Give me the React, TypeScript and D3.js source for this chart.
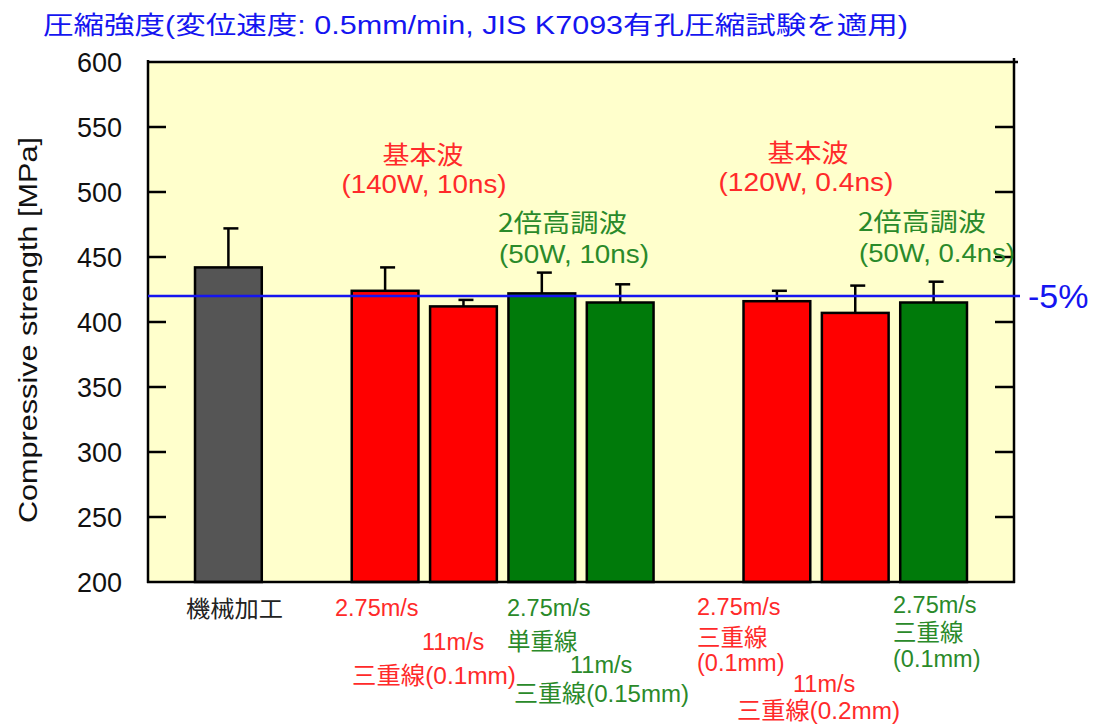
import React from "react";
import * as d3 from "d3";

// ---- data ----
const categories = [
  "機械加工",
  "_gap1",
  "基本波10ns_2.75",
  "基本波10ns_11",
  "2倍高調波10ns_2.75",
  "2倍高調波10ns_11",
  "_gap2",
  "基本波0.4ns_2.75",
  "基本波0.4ns_11",
  "2倍高調波0.4ns_2.75",
];
const kinds = ["machined", "", "fundamental", "fundamental", "shg", "shg", "", "fundamental", "fundamental", "shg"];
const strengths: (number | null)[] = [442, null, 424, 412, 422, 415, null, 416, 407, 415];
const errorUpper: (number | null)[] = [472, null, 442, 417, 438, 429, null, 424, 428, 431];
const yTicks = [200, 250, 300, 350, 400, 450, 500, 550, 600];
const referenceValue = 420; // -5% of machined
const referenceLabel = "-5%";
const titleText = "圧縮強度(変位速度: 0.5mm/min, JIS K7093有孔圧縮試験を適用)";
const yAxisTitle = "Compressive strength [MPa]";

const FONT = "'Liberation Sans', Arial, 'Noto Sans CJK JP', sans-serif";
const CJK = "'Noto Sans CJK JP', 'Liberation Sans', sans-serif";
const RED_TXT = "#ff2a2a";
const GREEN_TXT = "#2a8a2a";
const BLUE = "#1515f0";

const fills: Record<string, string> = {
  machined: "#555555",
  fundamental: "#ff0000",
  shg: "#007a0a",
};

export default function App() {
  const W = 1099;
  const H = 727;
  const left = 148;
  const right = 1014;
  const top = 62;
  const bottom = 582;

  const x = d3.scaleBand<string>().domain(categories).range([left, right]).paddingInner(0.148).paddingOuter(0.6);
  const y = d3.scaleLinear().domain([200, 600]).range([bottom, top]);
  const bw = x.bandwidth();

  return (
    <svg width={W} height={H} style={{ position: "absolute", left: 0, top: 0, background: "#fff" }} fontFamily={FONT}>
      {/* title */}
      <text x={43} y={34} fontSize={25} fill={BLUE} textLength={865} lengthAdjust="spacingAndGlyphs" fontFamily={FONT}>
        {titleText}
      </text>

      {/* plot background */}
      <rect x={left} y={top} width={right - left} height={bottom - top} fill="#ffffcc" />

      {/* bars */}
      {categories.map((c, i) => {
        const v = strengths[i];
        if (v == null) return null;
        const x0 = x(c)!;
        return (
          <rect key={c} x={x0} y={y(v)} width={bw} height={y(200) - y(v)} fill={fills[kinds[i]]} stroke="#000" strokeWidth={2.5} />
        );
      })}

      {/* error bars */}
      {categories.map((c, i) => {
        const v = strengths[i];
        const e = errorUpper[i];
        if (v == null || e == null) return null;
        const cx = x(c)! + bw / 2;
        return (
          <g key={"e" + c} stroke="#000" strokeWidth={2.5}>
            <line x1={cx} x2={cx} y1={y(v)} y2={y(e)} />
            <line x1={cx - 5} x2={cx + 10} y1={y(e)} y2={y(e)} />
          </g>
        );
      })}

      {/* axes frame */}
      <g stroke="#000" strokeWidth={2.5} fill="none">
        <line x1={left} x2={left} y1={top - 2} y2={bottom + 1} />
        <line x1={right} x2={right} y1={top - 4} y2={bottom + 1} />
        <line x1={left} x2={right + 4} y1={top} y2={top} />
        <line x1={left - 1} x2={right + 1} y1={bottom} y2={bottom} />
        {yTicks.slice(1, -1).map((t) => (
          <g key={"t" + t}>
            <line x1={left} x2={left + 18} y1={y(t)} y2={y(t)} />
            <line x1={right - 19} x2={right} y1={y(t)} y2={y(t)} />
          </g>
        ))}
      </g>

      {/* y tick labels */}
      {yTicks.map((t) => (
        <text key={"l" + t} x={122} y={y(t)} dy="0.36em" fontSize={27} textAnchor="end" fill="#111">
          {t}
        </text>
      ))}

      {/* y axis title */}
      <text
        transform={`translate(37,330) rotate(-90)`}
        fontSize={25}
        textAnchor="middle"
        fill="#111"
        textLength={386}
        lengthAdjust="spacingAndGlyphs"
      >
        {yAxisTitle}
      </text>

      {/* reference line */}
      <line x1={left} x2={1020} y1={y(referenceValue)} y2={y(referenceValue)} stroke={BLUE} strokeWidth={2.5} />
      <text x={1028} y={y(referenceValue) + 12} fontSize={34} fill={BLUE}>
        {referenceLabel}
      </text>

      {/* group annotations */}
      <g fontSize={25} fontFamily={CJK} fill={RED_TXT} textAnchor="middle">
        <text x={423} y={164} textLength={81} lengthAdjust="spacingAndGlyphs">基本波</text>
        <text x={808} y={162} textLength={81} lengthAdjust="spacingAndGlyphs">基本波</text>
      </g>
      <g fontSize={25} fontFamily={FONT} fill={RED_TXT} textAnchor="middle">
        <text x={424} y={193} textLength={165} lengthAdjust="spacingAndGlyphs">(140W, 10ns)</text>
        <text x={806} y={191} textLength={175} lengthAdjust="spacingAndGlyphs">(120W, 0.4ns)</text>
      </g>
      <g fontSize={25} fontFamily={CJK} fill={GREEN_TXT}>
        <text x={498} y={232} textLength={129} lengthAdjust="spacingAndGlyphs">2倍高調波</text>
        <text x={858} y={231} textLength={128} lengthAdjust="spacingAndGlyphs">2倍高調波</text>
      </g>
      <g fontSize={25} fontFamily={FONT} fill={GREEN_TXT}>
        <text x={499} y={263} textLength={150} lengthAdjust="spacingAndGlyphs">(50W, 10ns)</text>
        <text x={859} y={262} textLength={156} lengthAdjust="spacingAndGlyphs">(50W, 0.4ns)</text>
      </g>

      {/* x labels */}
      <text x={186} y={617} fontSize={23} fontFamily={CJK} fill="#222" textLength={97} lengthAdjust="spacingAndGlyphs">
        機械加工
      </text>
      <g fontSize={23.5} fill={RED_TXT}>
        <text x={335} y={616}>2.75m/s</text>
        <text x={422} y={650}>11m/s</text>
        <text x={352} y={684} textLength={164} lengthAdjust="spacingAndGlyphs">三重線(0.1mm)</text>
        <text x={697} y={615}>2.75m/s</text>
        <text x={697} y={646}>三重線</text>
        <text x={697} y={671}>(0.1mm)</text>
        <text x={793} y={692}>11m/s</text>
        <text x={737} y={719} textLength={163} lengthAdjust="spacingAndGlyphs">三重線(0.2mm)</text>
      </g>
      <g fontSize={23.5} fill={GREEN_TXT}>
        <text x={507} y={616}>2.75m/s</text>
        <text x={507} y={650}>単重線</text>
        <text x={570} y={673}>11m/s</text>
        <text x={514} y={702} textLength={175} lengthAdjust="spacingAndGlyphs">三重線(0.15mm)</text>
        <text x={893} y={613}>2.75m/s</text>
        <text x={893} y={641}>三重線</text>
        <text x={893} y={667}>(0.1mm)</text>
      </g>
    </svg>
  );
}
